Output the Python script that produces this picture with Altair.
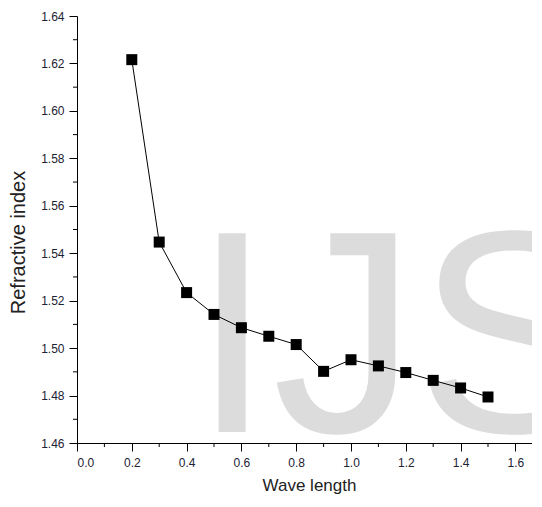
import altair as alt
import pandas as pd

# Data
wavelength = [0.2, 0.3, 0.4, 0.5, 0.6, 0.7, 0.8, 0.9, 1.0, 1.1, 1.2, 1.3, 1.4, 1.5]
refractive = [1.6216, 1.5447, 1.5234, 1.5142, 1.5086, 1.5050, 1.5015, 1.4902,
              1.4951, 1.4925, 1.4897, 1.4864, 1.4832, 1.4794]
watermark = ["IJS"]

x_major = [0.0, 0.2, 0.4, 0.6, 0.8, 1.0, 1.2, 1.4, 1.6]
x_minor = [0.1, 0.3, 0.5, 0.7, 0.9, 1.1, 1.3, 1.5]
y_major = [1.46, 1.48, 1.50, 1.52, 1.54, 1.56, 1.58, 1.60, 1.62, 1.64]
y_minor = [1.47, 1.49, 1.51, 1.53, 1.55, 1.57, 1.59, 1.61, 1.63]

df = pd.DataFrame({"w": wavelength, "n": refractive})
wm = pd.DataFrame({"t": watermark})
xm = pd.DataFrame({"w": x_minor})
ym = pd.DataFrame({"n": y_minor})

FONT = "Liberation Sans"
W, H = 455, 427

x_axis = alt.Axis(
    values=x_major, format=".1f", title="Wave length", grid=False,
    domainColor="black", tickColor="black", tickSize=8,
    labelFont=FONT, labelFontSize=12, labelColor="#1c2233", labelPadding=6,
    titleFont=FONT, titleFontSize=17, titleFontWeight="normal", titleColor="#222",
    titlePadding=9, titleX=232,
)
y_axis = alt.Axis(
    values=y_major, format=".2f", title="Refractive index", grid=False,
    domainColor="black", tickColor="black", tickSize=8,
    labelFont=FONT, labelFontSize=12, labelColor="#1c2233", labelPadding=5,
    titleFont=FONT, titleFontSize=20, titleFontWeight="normal", titleColor="#222",
    titlePadding=12, titleY=226,
)

x_scale = alt.Scale(domain=[0, W / 274.0], nice=False, zero=False)
y_scale = alt.Scale(domain=[1.46, 1.64], nice=False, zero=False)
x_enc = alt.X("w:Q", axis=x_axis, scale=x_scale)
y_enc = alt.Y("n:Q", axis=y_axis, scale=y_scale)

text = alt.Chart(wm).mark_text(
    font=FONT, fontSize=289, color="#dcdcdc", align="left", baseline="alphabetic"
).encode(text="t:N", x=alt.value(115), y=alt.value(416))

line = alt.Chart(df).mark_line(color="black", strokeWidth=1).encode(x=x_enc, y=y_enc)
pts = alt.Chart(df).mark_square(color="black", opacity=1, size=121, filled=True).encode(x=x_enc, y=y_enc)

xminor = alt.Chart(xm).mark_rule(color="black", strokeWidth=1).encode(
    x=alt.X("w:Q", scale=x_scale), y=alt.value(H), y2=alt.value(H + 4)
)
yminor = alt.Chart(ym).mark_rule(color="black", strokeWidth=1).encode(
    y=alt.Y("n:Q", scale=y_scale), x=alt.value(0), x2=alt.value(-4)
)

chart = alt.layer(text, line, pts, xminor, yminor).properties(
    width=W,
    height=H,
    background="white",
    autosize=alt.AutoSizeParams(type="none"),
    padding={"left": 69, "top": 8, "right": 0, "bottom": 53},
).configure_view(stroke=None, strokeWidth=0)

chart.save("out.html", embed_options={"renderer": "svg", "actions": False})
